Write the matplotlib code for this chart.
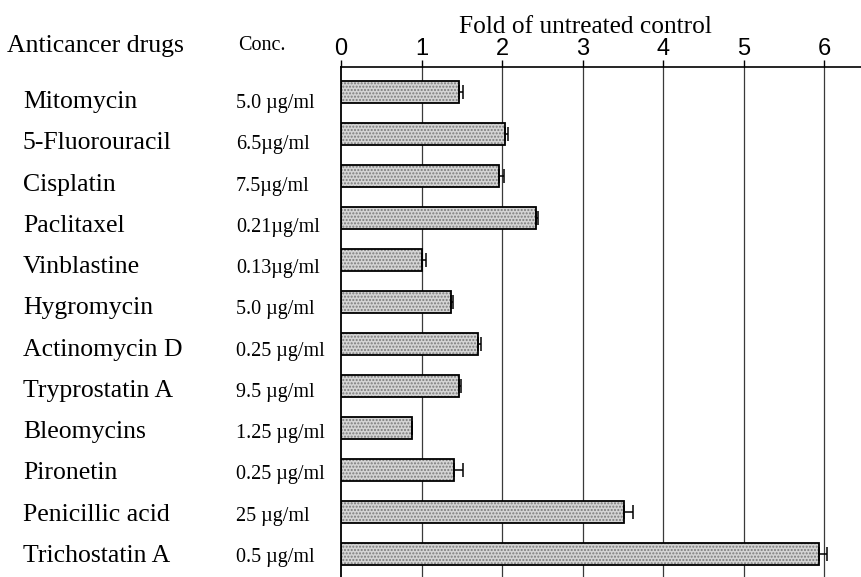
import numpy as np
import matplotlib
matplotlib.use("Agg")
import matplotlib.pyplot as plt
from matplotlib.transforms import blended_transform_factory

# data
drugs = ['Mitomycin', '5-Fluorouracil', 'Cisplatin', 'Paclitaxel', 'Vinblastine',
         'Hygromycin', 'Actinomycin D', 'Tryprostatin A', 'Bleomycins', 'Pironetin',
         'Penicillic acid', 'Trichostatin A']
conc = ['5.0 \u00b5g/ml', '6.5\u00b5g/ml', '7.5\u00b5g/ml', '0.21\u00b5g/ml', '0.13\u00b5g/ml',
        '5.0 \u00b5g/ml', '0.25 \u00b5g/ml', '9.5 \u00b5g/ml', '1.25 \u00b5g/ml', '0.25 \u00b5g/ml',
        '25 \u00b5g/ml', '0.5 \u00b5g/ml']
fold = [1.47, 2.04, 1.96, 2.42, 1.01, 1.37, 1.70, 1.47, 0.88, 1.40, 3.51, 5.94]
err = [0.05, 0.03, 0.07, 0.03, 0.05, 0.02, 0.04, 0.02, 0.0, 0.11, 0.11, 0.10]
xticks = [0, 1, 2, 3, 4, 5, 6]

serif = 'Liberation Serif'
sans = 'Liberation Sans'

fig = plt.figure(figsize=(8.62, 5.77), dpi=100)
ax = fig.add_axes([341/862, 0, 1 - 341/862, 1 - 67/577])

y = np.arange(len(drugs))
# dotted grey fill, then black outline
ax.barh(y, fold, height=0.52, color='#d4d4d4', edgecolor='#7a7a7a', hatch='.....',
        linewidth=0, zorder=2)
ax.barh(y, fold, height=0.52, fill=False, edgecolor='black', linewidth=1.3, zorder=3)
xerr = [np.zeros(len(err)), err]
ax.errorbar(fold, y, xerr=xerr, fmt='none', ecolor='black', elinewidth=1.1,
            capsize=5, capthick=1.1, zorder=4)

ax.set_xlim(0, 6.47)
ax.set_ylim(11.55, -0.595)
ax.set_yticks([])
ax.xaxis.tick_top()
ax.set_xticks(xticks)
ax.set_xticklabels([str(t) for t in xticks], fontfamily=sans, fontsize=17)
ax.tick_params(axis='x', length=5, width=1.0, pad=0)
for t in xticks[1:]:
    ax.axvline(t, color='#3a3a3a', lw=0.9, zorder=1)
for s in ['right', 'bottom']:
    ax.spines[s].set_visible(False)
ax.spines['top'].set_linewidth(1.2)
ax.spines['left'].set_linewidth(1.3)

# row labels on the left
tr = blended_transform_factory(fig.transFigure, ax.transData)
for i in range(len(drugs)):
    yb = 0.381 + i * 0.983
    ax.text(23/862, yb, drugs[i], transform=tr, fontfamily=serif, fontsize=18.5,
            va='baseline', ha='left', clip_on=False)
    ax.text(236/862, yb, conc[i], transform=tr, fontfamily=serif, fontsize=14.5,
            va='baseline', ha='left', clip_on=False)

fig.text(7/862, 1 - 52/577, 'Anticancer drugs', fontfamily=serif, fontsize=18.5, va='baseline')
fig.text(238/862, 1 - 50/577, 'Conc.', fontfamily=serif, fontsize=14.5, va='baseline')
fig.text(585/862, 1 - 33/577, 'Fold of untreated control', fontfamily=serif, fontsize=18.3,
         va='baseline', ha='center')

fig.savefig('out.png', dpi=100)
